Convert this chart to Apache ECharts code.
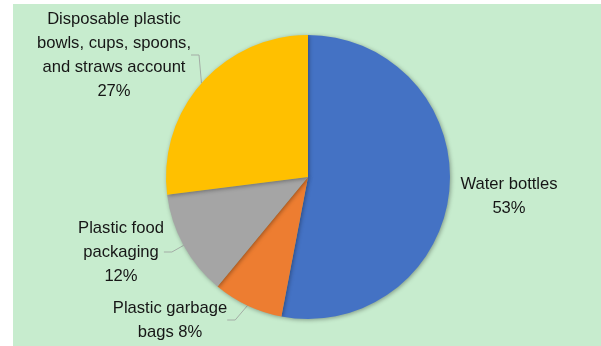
<!DOCTYPE html>
<html>
<head>
<meta charset="utf-8">
<script src="https://cdn.jsdelivr.net/npm/echarts@6/dist/echarts.min.js"></script>
<style>
    html, body { margin: 0; padding: 0; background: #fff; }
    #pie_chart { position: absolute; left: 13px; top: 4px; width: 588px; height: 342px; background: #c7ecce; }
</style>
</head>
<body>
<div id="pie_chart"></div>
<script>
// Data
var categories = ['Water bottles', 'Plastic garbage bags', 'Plastic food packaging', 'Disposable plastic bowls, cups, spoons, and straws account'];
var values = [53, 8, 12, 27];
var labelTexts = [
    'Water bottles\n53%',
    'Plastic garbage\nbags 8%',
    'Plastic food\npackaging\n12%',
    'Disposable plastic\nbowls, cups, spoons,\nand straws account\n27%'
];
var colors = ['#4472c4', '#ed7d31', '#a5a5a5', '#ffc000'];

// where each label sits (chart coords)
var labelSpots = [[496, 192], [157, 316], [108, 248], [101, 51]];

var chartEl = document.getElementById('pie_chart');
var chart = echarts.init(chartEl);

var seriesData = categories.map(function(name, i) {
    return {
        name: name,
        value: values[i],
        labelLine: { show: i !== 0 }
    };
});

chart.setOption({
    color: colors,
    animation: false,
    textStyle: {
        fontFamily: '"Liberation Sans", Arial, sans-serif'
    },
    series: [{
        type: 'pie',
        center: [295, 173],
        radius: [0, 142],
        startAngle: 90,
        clockwise: true,
        data: seriesData,
        itemStyle: {
            shadowBlur: 4,
            shadowColor: 'rgba(0,0,0,0.35)',
            shadowOffsetX: 1,
            shadowOffsetY: 1
        },
        label: {
            show: true,
            position: 'outside',
            formatter: function(p) { return labelTexts[p.dataIndex]; },
            fontSize: 16.6,
            lineHeight: 24,
            color: '#161616',
            align: 'center'
        },
        labelLine: {
            show: true,
            length: 8,
            length2: 8,
            lineStyle: { color: '#a3aca5', width: 1 }
        },
        labelLayout: function(params) {
            var spot = labelSpots[params.dataIndex];
            return {
                x: spot[0],
                y: spot[1],
                align: 'center',
                verticalAlign: 'middle'
            };
        }
    }]
});

window.addEventListener('resize', function() {
    chart.resize();
});
</script>
</body>
</html>
